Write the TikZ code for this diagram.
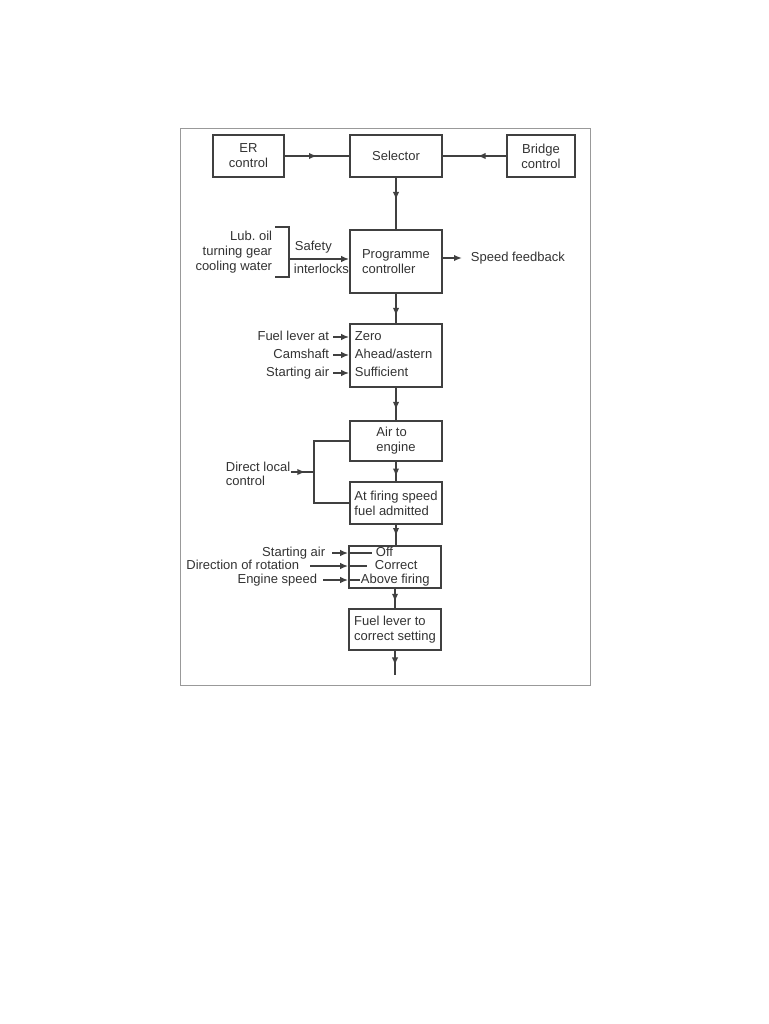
\documentclass[tikz,border=0pt]{standalone}
\usepackage{fontspec}
\setmainfont{Liberation Sans}
\usetikzlibrary{arrows.meta,decorations.markings}

\tikzset{
  blk/.style={draw=black!75,line width=1.7pt,minimum width=92pt,inner sep=0pt,align=left},
  lbl/.style={inner sep=0pt,text height=9.5pt,text depth=2.5pt},
  note/.style={inner sep=0pt},
  tip/.style={-{Latex[length=8pt,width=6.5pt]}},
  midtip/.style={postaction={decorate,decoration={markings,
      mark=at position #1 with {\arrow{Latex[length=8pt,width=6.5pt]}}}}}
}

\begin{document}
\begin{tikzpicture}[x=1pt,y=-1pt,line join=miter,line width=1.8pt,draw=black!75,
    font=\fontsize{13}{15}\selectfont,text=black!80]
  \fill[white] (0,0) rectangle (768,1024);
  \draw[black!40,line width=1pt] (180,129) rectangle (590,685);

  % top row
  \node[blk,align=center,minimum width=71pt,minimum height=42pt] (er) at (248.5,156) {ER\\control};
  \node[blk,minimum height=42pt] (sel) at (396,156) {Selector};
  \node[blk,align=center,minimum width=68pt,minimum height=42pt] (brg) at (541,156) {Bridge\\control};
  \draw[midtip=0.5] (er) -- (sel);
  \draw[midtip=0.45] (brg) -- (sel);

  % programme controller
  \node[blk,minimum height=63pt] (prog) at (396,261.5) {Programme\\controller};
  \draw[midtip=0.43] (sel) -- (prog);
  \node[note,align=right,anchor=east] (lub) at (273,252) {Lub.\ oil\\turning gear\\cooling water};
  \coordinate (bm) at (289,259);
  \draw (275,227) -- (289,227) -- (289,277) -- (275,277);
  \draw[tip] (bm) -- (bm -| prog.west);
  \node[lbl,anchor=west] (safety) at (294,247) {Safety};
  \node[lbl,anchor=west] (ilock) at (293,270) {interlocks};
  \node[lbl,anchor=west] (fb) at (470,258) {Speed feedback};
  \draw[tip,shorten >=8pt] (prog.east |- fb.west) -- (fb.west);

  % start checks
  \node[blk,minimum height=63pt] (chk) at (396,355.5) {};
  \draw[midtip=0.75] (prog) -- (chk);
  \node[lbl,anchor=west] (zero) at (354,337) {Zero};
  \node[lbl,anchor=west] (ahead) at (354,355) {Ahead/astern};
  \node[lbl,anchor=west] (suff) at (354,373) {Sufficient};
  \node[lbl,anchor=east] (fl) at (330,337) {Fuel lever at};
  \node[lbl,anchor=east] (cam) at (330,355) {Camshaft};
  \node[lbl,anchor=east] (sa) at (330,373) {Starting air};
  \draw[tip,shorten <=3pt] (fl.east) -- (fl.east -| chk.west);
  \draw[tip,shorten <=3pt] (cam.east) -- (cam.east -| chk.west);
  \draw[tip,shorten <=3pt] (sa.east) -- (sa.east -| chk.west);

  % air and fuel
  \node[blk,minimum height=40pt] (air) at (396,441) {Air to\\engine};
  \node[blk,minimum height=42pt] (fire) at (396,503) {At firing speed\\fuel admitted};
  \draw[midtip=0.68] (chk) -- (air);
  \draw[midtip=0.76] (air) -- (fire);
  \coordinate (jx) at (314,472);
  \draw (air.west) -| (jx) |- (fire.west);
  \node[lbl,anchor=west] (dlc) at (225,468) {Direct local};
  \node[lbl,anchor=west] (dlc2) at (225,482) {control};
  \draw[midtip=0.62] (dlc.east |- jx) -- (jx);

  % running checks
  \node[blk,minimum height=42pt] (run) at (395,567) {};
  \draw[midtip=0.55] (fire) -- (fire |- run.north);
  \node[lbl,anchor=west] (off) at (375,553) {Off};
  \node[lbl,anchor=west] (corr) at (374,566) {Correct};
  \node[lbl,anchor=west] (abv) at (360,580) {Above firing};
  \node[lbl,anchor=east] (sa2) at (326,553) {Starting air};
  \node[lbl,anchor=east] (dir) at (300,566) {Direction of rotation};
  \node[lbl,anchor=east] (es) at (318,580) {Engine speed};
  \draw[tip,shorten <=6pt] (sa2.east) -- (sa2.east -| run.west);
  \draw (sa2.east -| run.west) -- ([xshift=-3pt]off.west);
  \draw[tip,shorten <=10pt] (dir.east) -- (dir.east -| run.west);
  \draw (dir.east -| run.west) -- ([xshift=-7pt]corr.west);
  \draw[tip,shorten <=5pt] (es.east) -- (es.east -| run.west);
  \draw (es.east -| run.west) -- (abv.west);

  % fuel lever
  \node[blk,minimum height=41pt] (lever) at (395,629.5) {Fuel lever to\\correct setting};
  \draw[midtip=0.67] (run) -- (lever);
  \coordinate (out) at (395,675);
  \draw[midtip=0.6] (lever) -- (out);
\end{tikzpicture}
\end{document}
